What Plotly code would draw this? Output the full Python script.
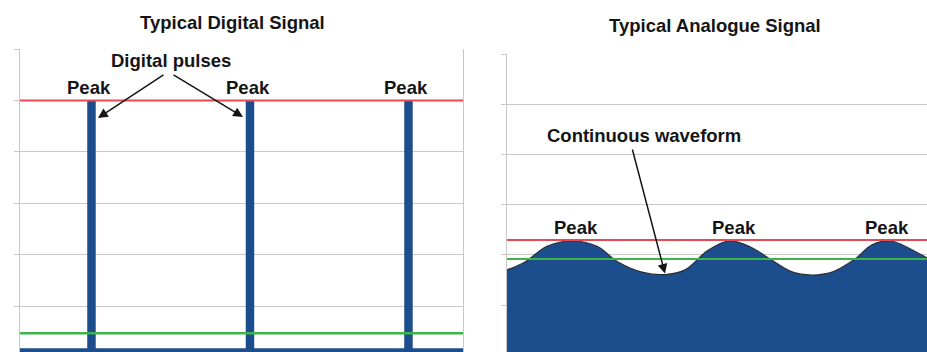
import plotly.graph_objects as go

W, H = 927, 352

# ---------------- data ----------------
# Left panel: typical digital signal
pulse_times = [1, 3, 5]
pulse_high = 5.0
signal_low = 0.18
digital_threshold = 0.47
digital_span = [0.098, 5.688]
digital_grid = [1, 2, 3, 4, 5, 6]

# Right panel: typical analogue signal
wave_x = [0, 18, 40, 65, 90, 111, 135, 158, 178, 201, 222, 243, 263, 285, 305, 325,
          348, 365, 384, 403, 420]
wave_y = [1.70, 1.857, 2.17, 2.275, 2.17, 1.857, 1.655, 1.606, 1.70, 2.09, 2.275, 2.16,
          1.916, 1.66, 1.598, 1.655, 1.916, 2.20, 2.275, 2.12, 1.936]
peak_x = [69, 227, 380]
trough_x = [158, 305]
trough_y = 1.606
analogue_peak = 2.295
analogue_mid = 1.916
analogue_span = [0, 420]
analogue_grid = [1, 2, 3, 4, 5, 6]

# ---------------- styles ----------------
BLUE = "#1c4d8c"
RED = "#e84a55"
GREEN = "#3db34a"
GRID = "#c8c8c8"
INK = "#151515"
FONT = "Liberation Sans, Arial, sans-serif"

fig = go.Figure()

# digital baseline
fig.add_trace(go.Scatter(x=digital_span, y=[signal_low, signal_low], mode="lines",
                         fill="tozeroy", fillcolor=BLUE, line=dict(width=0, color=BLUE),
                         xaxis="x", yaxis="y", hoverinfo="skip"))
# digital pulses
fig.add_trace(go.Bar(x=pulse_times, y=[pulse_high] * len(pulse_times), width=0.107,
                     marker=dict(color=BLUE, line=dict(width=0)), xaxis="x", yaxis="y"))
# reference lines
fig.add_trace(go.Scatter(x=digital_span, y=[pulse_high, pulse_high], mode="lines",
                         line=dict(color=RED, width=2), xaxis="x", yaxis="y"))
fig.add_trace(go.Scatter(x=digital_span, y=[digital_threshold, digital_threshold], mode="lines",
                         line=dict(color=GREEN, width=2.5), xaxis="x", yaxis="y"))

# analogue wave
fig.add_trace(go.Scatter(x=wave_x, y=wave_y, mode="lines", line_shape="spline",
                         line_smoothing=1.0,
                         fill="tozeroy", fillcolor=BLUE, line=dict(color="#2a2f3a", width=1.2),
                         xaxis="x2", yaxis="y2"))
fig.add_trace(go.Scatter(x=analogue_span, y=[analogue_peak, analogue_peak], mode="lines",
                         line=dict(color=RED, width=2), xaxis="x2", yaxis="y2"))
fig.add_trace(go.Scatter(x=analogue_span, y=[analogue_mid, analogue_mid], mode="lines",
                         line=dict(color=GREEN, width=2), xaxis="x2", yaxis="y2"))

lab = dict(family=FONT, size=18.5, color=INK, weight="bold")
ann = []
ann.append(dict(text="Typical Digital Signal", x=232 / W, y=1 - 23 / H, xref="paper", yref="paper",
                xanchor="center", yanchor="middle", showarrow=False, font=lab))
ann.append(dict(text="Typical Analogue Signal", x=715 / W, y=1 - 26 / H, xref="paper", yref="paper",
                xanchor="center", yanchor="middle", showarrow=False, font=lab))
for t in pulse_times:
    ann.append(dict(text="Peak", x=t - 0.03, y=pulse_high, xref="x", yref="y", yanchor="bottom",
                    xanchor="center", showarrow=False, font=lab))
for p in peak_x:
    ann.append(dict(text="Peak", x=p, y=analogue_peak, xref="x2", yref="y2", yanchor="bottom",
                    xanchor="center", showarrow=False, font=lab))
ann.append(dict(text="Digital pulses", x=2.003, y=5.767, xref="x", yref="y",
                xanchor="center", showarrow=False, font=lab))
arrow = dict(text="", showarrow=True, arrowhead=2, arrowsize=1.3, arrowwidth=1.5, arrowcolor=INK)
ann.append(dict(arrow, x=1.082, y=4.658, ax=1.927, ay=5.514, xref="x", yref="y", axref="x", ayref="y"))
ann.append(dict(arrow, x=2.912, y=4.677, ax=2.016, ay=5.514, xref="x", yref="y", axref="x", ayref="y"))
ann.append(dict(text="Continuous waveform", x=137, y=4.386, xref="x2", yref="y2",
                xanchor="center", showarrow=False, font=lab))
ann.append(dict(arrow, x=trough_x[0], y=trough_y + 0.02, ax=125, ay=4.127,
                xref="x2", yref="y2", axref="x2", ayref="y2"))

yax = dict(tickvals=digital_grid, ticks="outside", ticklen=5, tickcolor=GRID, showticklabels=False,
           showgrid=True, gridcolor=GRID, gridwidth=1, showline=True, linecolor=GRID, linewidth=1,
           zeroline=False, fixedrange=True)

fig.update_layout(
    width=W, height=H, margin=dict(l=0, r=0, t=0, b=0),
    paper_bgcolor="white", plot_bgcolor="white", showlegend=False,
    xaxis=dict(domain=[20 / W, 463 / W], range=digital_span, visible=False, anchor="y"),
    yaxis=dict(yax, domain=[0, 1 - 49 / H], range=[0.105, 6], mirror=True, anchor="x"),
    xaxis2=dict(domain=[507 / W, 1], range=analogue_span, visible=False, anchor="y2"),
    yaxis2=dict(yax, tickvals=analogue_grid, domain=[0, 1 - 54 / H], range=[0.064, 6], anchor="x2"),
    annotations=ann,
)

fig.write_html("out.html", config={"displayModeBar": False},
               post_script="document.body.style.margin='0';document.body.style.padding='0';")
